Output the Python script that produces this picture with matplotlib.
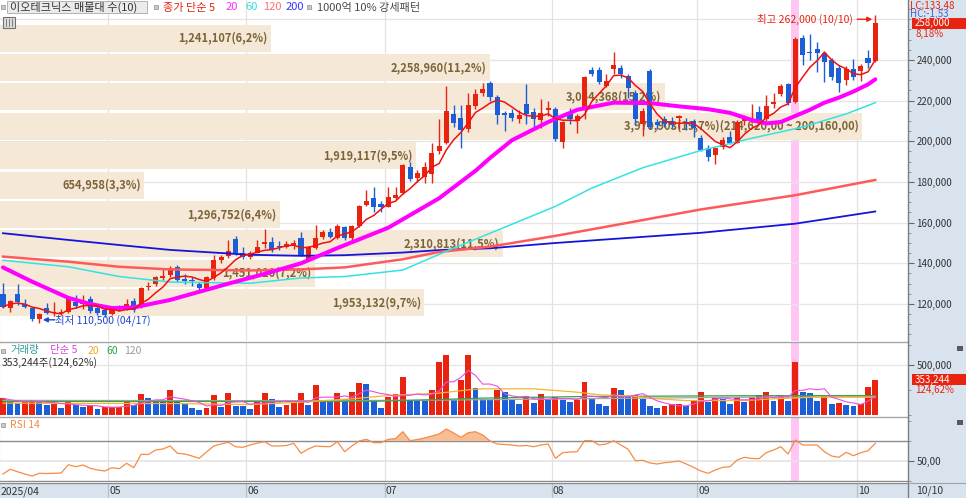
import numpy as np
import pandas as pd
import matplotlib
matplotlib.use('Agg')
import matplotlib.pyplot as plt
from matplotlib.patches import Rectangle
from matplotlib.lines import Line2D
from matplotlib.ticker import FixedLocator, FuncFormatter

plt.rcParams['font.family'] = ['Noto Sans CJK KR', 'DejaVu Sans']

# ------------------------------------------------------------------ data
stock_name = '이오테크닉스'
month_labels = ['2025/04', '05', '06', '07', '08', '09', '10']
month_first = [0, 15, 34, 53, 76, 96, 118]      # candle index of each month's first day
last_date = '10/10'
high_date = '10/10'
low_date = '04/17'
strong_day = 109                                 # 1000억 10% 강세패턴
lc_text = 'LC:133,48'
hc_text = 'HC:-1,53'

# daily candles, 1,000 won
opens = [124.9, 118.2, 124.9, 120.0, 118.0, 112.7, 118.0, 115.8, 115.8, 116.2,
         121.0, 120.0, 122.4, 118.0, 117.0, 115.0, 118.5, 117.5, 121.5, 118.7,
         128.5, 129.7, 133.0, 134.3, 138.2, 132.5, 132.0, 130.0, 127.8, 132.8,
         141.6, 143.6, 151.8, 145.0, 143.0, 145.3, 149.5, 150.7, 148.5, 148.2,
         149.0, 152.3, 142.1, 147.4, 153.1, 155.6, 152.3, 157.7, 152.3, 158.5,
         168.7, 172.0, 169.2, 167.9, 172.0, 174.8, 187.2, 181.8, 182.3, 183.9,
         195.2, 199.3, 213.5, 211.3, 205.9, 217.4, 223.9, 228.8, 222.0, 214.0,
         214.1, 210.8, 218.4, 214.6, 210.5, 215.4, 215.7, 199.8, 213.4, 210.2,
         216.2, 235.1, 235.1, 227.2, 235.4, 236.2, 232.1, 223.6, 208.4, 234.6,
         209.4, 211.0, 210.0, 211.3, 209.7, 210.0, 201.5, 196.9, 193.3, 197.1,
         202.0, 199.3, 210.2, 210.3, 214.6, 210.8, 218.4, 223.3, 228.0, 219.5,
         250.7, 244.0, 245.3, 243.3, 240.0, 235.9, 230.2, 235.4, 234.7, 240.8,
         239.5]
highs = [130.3, 122.0, 129.8, 122.4, 118.7, 115.5, 120.4, 121.0, 117.5, 123.6,
         124.5, 124.5, 123.7, 119.0, 118.0, 119.0, 119.5, 122.5, 122.8, 128.5,
         131.0, 134.0, 137.5, 138.5, 139.0, 134.6, 133.5, 131.0, 134.0, 144.0,
         144.3, 151.3, 153.4, 148.2, 146.0, 151.5, 156.8, 153.0, 151.0, 151.0,
         151.5, 155.6, 148.5, 158.8, 156.5, 157.3, 159.2, 158.5, 159.0, 168.5,
         176.1, 177.7, 170.5, 177.7, 177.7, 189.0, 190.0, 186.0, 190.0, 199.3,
         210.8, 227.2, 218.0, 218.0, 223.6, 225.8, 228.5, 229.5, 223.0, 214.8,
         216.0, 215.5, 228.2, 216.5, 220.7, 219.7, 217.0, 210.0, 216.4, 213.5,
         232.0, 236.5, 236.5, 233.0, 244.1, 237.3, 233.0, 225.0, 216.5, 235.5,
         211.0, 212.5, 212.0, 213.0, 211.5, 211.0, 203.0, 198.0, 197.0, 202.0,
         205.0, 210.5, 213.0, 218.4, 217.5, 222.8, 223.9, 228.3, 228.5, 251.5,
         252.5, 252.8, 249.0, 244.5, 241.0, 237.5, 237.0, 240.3, 238.0, 244.9,
         262.0]
lows = [118.0, 116.1, 119.5, 118.0, 111.5, 110.5, 115.0, 114.0, 114.5, 115.8,
        118.0, 117.5, 115.5, 114.5, 113.8, 114.5, 116.5, 117.0, 116.0, 118.0,
        127.0, 129.0, 132.0, 133.5, 130.8, 129.6, 129.0, 127.0, 127.0, 132.0,
        140.0, 142.5, 144.0, 142.0, 142.0, 145.0, 147.5, 145.5, 146.5, 147.5,
        147.0, 143.5, 141.5, 146.8, 151.8, 152.5, 151.8, 151.5, 150.5, 158.0,
        168.0, 165.4, 165.4, 167.5, 171.0, 174.0, 180.5, 180.0, 179.5, 179.4,
        194.0, 198.5, 207.0, 196.5, 204.5, 216.0, 222.5, 220.0, 208.5, 205.2,
        210.0, 209.0, 208.5, 206.5, 206.4, 212.5, 200.0, 196.6, 208.4, 204.0,
        211.0, 232.0, 228.0, 226.5, 233.0, 231.0, 221.5, 208.0, 202.8, 206.0,
        206.0, 207.0, 206.5, 206.0, 205.5, 202.0, 195.0, 190.3, 189.0, 196.0,
        198.5, 199.0, 208.0, 209.0, 208.5, 210.0, 216.5, 222.5, 218.0, 219.0,
        237.5, 240.0, 234.3, 229.3, 230.0, 224.4, 227.7, 230.0, 229.5, 236.0,
        239.0]
closes = [118.5, 121.7, 121.0, 118.6, 112.6, 115.0, 115.8, 116.0, 116.3, 123.0,
          118.8, 121.5, 116.6, 115.6, 114.5, 118.7, 117.5, 120.0, 117.2, 128.0,
          129.0, 133.4, 134.0, 137.9, 131.8, 131.5, 131.2, 127.8, 133.1, 141.6,
          143.0, 146.2, 145.0, 143.2, 145.0, 148.2, 150.7, 146.6, 148.0, 149.5,
          150.0, 144.1, 147.9, 152.3, 155.6, 153.1, 158.5, 152.3, 158.5, 168.2,
          170.8, 167.9, 167.6, 172.8, 173.6, 188.4, 181.3, 184.6, 187.5, 194.4,
          197.7, 215.0, 209.2, 205.6, 217.9, 223.3, 225.6, 221.6, 213.0, 213.0,
          211.3, 213.0, 213.4, 210.8, 213.8, 216.6, 201.0, 209.7, 210.8, 212.5,
          231.8, 233.1, 229.3, 229.8, 237.5, 233.1, 226.1, 210.8, 214.9, 207.2,
          207.8, 208.4, 208.2, 212.6, 208.4, 206.4, 195.6, 192.4, 196.6, 200.7,
          199.1, 209.7, 211.3, 211.0, 209.7, 217.4, 219.1, 227.2, 218.7, 250.2,
          242.5, 243.4, 243.6, 239.2, 231.5, 228.5, 235.4, 231.5, 237.0, 238.5,
          258.0]

volume = [171000, 139000, 125000, 130000, 155000, 139000, 102000, 116000, 76000, 139000,
          99000, 82000, 95000, 66000, 82000, 85000, 88000, 139000, 99000, 208000,
          171000, 155000, 142000, 254000, 142000, 116000, 76000, 59000, 76000, 198000,
          82000, 225000, 92000, 90000, 66000, 132000, 222000, 168000, 82000, 106000,
          132000, 225000, 106000, 297000, 148000, 132000, 225000, 168000, 231000, 323000,
          307000, 148000, 76000, 188000, 208000, 380000, 145000, 142000, 140000, 254000,
          528000, 594000, 155000, 356000, 600000, 277000, 165000, 160000, 248000, 231000,
          165000, 116000, 191000, 122000, 208000, 158000, 182000, 158000, 132000, 155000,
          336000, 175000, 116000, 96000, 277000, 251000, 191000, 198000, 165000, 92000,
          76000, 92000, 109000, 111000, 92000, 158000, 234000, 132000, 182000, 165000,
          116000, 182000, 132000, 182000, 198000, 231000, 142000, 198000, 142000, 533000,
          231000, 221000, 148000, 191000, 116000, 122000, 99000, 92000, 116000, 283458,
          353244]

rsi14 = [37, 41.7, 39.3, 37, 35, 37.7, 37.5, 37.7, 38, 46.3,
         44.3, 46, 42.7, 41, 40, 43.3, 42.3, 47.7, 43.3, 56.7,
         56.5, 61, 62, 65, 57.7, 57, 55, 52.7, 59, 65,
         67, 68.7, 64.3, 63.7, 66, 68, 69.3, 65, 65, 65.5,
         67.7, 57.7, 62, 65, 64.5, 64.3, 69.3, 59.3, 65, 70,
         71.7, 68.3, 68.3, 71.7, 72.3, 79.3, 70.3, 71.5, 73, 75,
         77, 82, 78, 73.7, 78.3, 79.3, 76, 70, 67, 66.5,
         66, 65, 65.5, 64.3, 66, 67, 52.7, 58.3, 59, 59.3,
         70.3, 70.3, 66, 67, 70.3, 66, 61.7, 50.3, 50.7, 48,
         47, 48.3, 49, 50, 47, 43.7, 40, 37.7, 41, 43.7,
         44.3, 51, 53.7, 52.5, 52.3, 58.3, 61, 64.3, 57, 71,
         66, 66, 66, 59.3, 55, 53.7, 58.7, 55.3, 58.3, 60.3,
         67.7]

# price moving averages (candle index, 1,000 won)
ma20_at = [0, 4, 9, 12, 15, 18, 23, 31, 36, 41, 46, 53, 60, 65, 67, 70, 75, 79, 84,
           89, 93, 97, 100, 103, 105, 107, 109, 111, 113, 115, 117, 119, 120]
ma20_val = [138.0, 131.0, 123.0, 120.0, 118.0, 118.3, 122.0, 130.0, 134.8, 140.0, 147.5,
            157.5, 172.0, 185.5, 191.8, 200.5, 209.5, 215.5, 219.0, 218.8, 217.2, 215.8,
            214.0, 210.5, 208.8, 209.5, 212.5, 215.5, 219.0, 221.5, 224.5, 228.0, 230.5]
ma60_at = [0, 9, 16, 23, 34, 41, 47, 55, 62, 67, 76, 81, 88, 96, 103, 110, 116, 120]
ma60_val = [141.5, 138.3, 133.5, 130.8, 130.2, 132.8, 133.5, 136.7, 147.5, 154.8, 168.0,
            177.0, 187.0, 195.5, 201.5, 207.0, 213.5, 219.0]
ma120_at = [0, 9, 16, 23, 34, 41, 47, 55, 60, 67, 76, 83, 96, 109, 120]
ma120_val = [143.3, 140.8, 138.3, 137.0, 136.5, 137.0, 138.0, 142.0, 145.6, 148.2, 153.5,
             158.0, 166.5, 173.5, 181.0]
ma200_at = [0, 9, 16, 23, 34, 41, 47, 55, 60, 67, 76, 96, 109, 120]
ma200_val = [154.8, 151.5, 149.0, 146.6, 144.2, 143.7, 144.0, 145.3, 146.5, 147.4, 150.0,
             155.0, 159.5, 165.5]

# volume moving averages (candle index, 1,000 shares)
vma20_at = [0, 12, 24, 34, 41, 48, 53, 60, 64, 66, 73, 79, 82, 86, 90, 94, 102, 106, 112, 120]
vma20_val = [122, 120, 118, 108, 132, 165, 198, 221, 254, 264, 264, 231, 205, 195, 165,
             148, 148, 165, 182, 182]
vma60_at = [0, 20, 40, 52, 60, 66, 80, 100, 120]
vma60_val = [139, 139, 139, 142, 158, 172, 188, 195, 197]
vma120_at = [0, 40, 60, 80, 100, 120]
vma120_val = [150, 146, 152, 166, 180, 186]

# volume profile (매물대), bottom band first
band_bottom = 113400
band_step = 14460
band_volume = [1953132, 1451010, 2310813, 1296752, 654958, 1919117, 3970903, 3054368, 2258960, 1241107]
band_share = [9.7, 7.2, 11.5, 6.4, 3.3, 9.5, 19.7, 15.2, 11.2, 6.2]

# ------------------------------------------------------------------ setup
W, H = 966, 498
RED = '#e8230f'
BLUE = '#1b5ed6'
STRIP = '#d9e3ee'

o = np.array(opens) * 1000
h = np.array(highs) * 1000
l = np.array(lows) * 1000
c = np.array(closes) * 1000
v = np.array(volume, dtype=float)
rsi = np.array(rsi14, dtype=float)
n = len(c)
x = np.arange(n)
XLIM = (-0.41, 124.5)
PLIM = (101800, 269500)


def fx(px):
    return px / W


def fy(py):
    return 1 - py / H


def kr(val, dec):
    return f'{val:,.{dec}f}'.replace('.', ',') if dec else f'{val:,.0f}'


fig = plt.figure(figsize=(W / 100, H / 100), dpi=100)
fig.patch.set_facecolor('white')
fig.add_artist(Rectangle((fx(908), 0), 1 - fx(908), 1, transform=fig.transFigure,
                         fc=STRIP, ec='none', zorder=-1))


def axes_at(x0, y0, x1, y1, fc='white'):
    a = fig.add_axes([fx(x0), fy(y1), (x1 - x0) / W, (y1 - y0) / H])
    a.set_facecolor(fc)
    for s in a.spines.values():
        s.set_visible(False)
    a.set_xlim(*XLIM)
    a.set_xticks([])
    return a


def right_ticks(a):
    a.yaxis.tick_right()
    a.tick_params(axis='y', which='major', direction='out', length=4, width=0.8,
                  color='#666666', pad=2, labelsize=7, labelcolor='#333333')
    a.tick_params(axis='y', which='minor', direction='out', length=2, width=0.6, color='#888888')


def ftxt(px, py, s, color='#333333', size=7.5, **kw):
    kw.setdefault('ha', 'left')
    kw.setdefault('va', 'center')
    return fig.text(fx(px), fy(py), s, color=color, fontsize=size, **kw)


def box(px, py, w, hgt, fc, ec='none', z=2, lw=0.8):
    fig.add_artist(Rectangle((fx(px), fy(py + hgt)), w / W, hgt / H, transform=fig.transFigure,
                             fc=fc, ec=ec, lw=lw, zorder=z))


month_lines = np.array(month_first) - 0.5

# ------------------------------------------------------------------ price panel
ax = axes_at(0, 0, 908, 341)
ax.set_ylim(*PLIM)
ax.axvspan(strong_day - 0.55, strong_day + 0.55, color='#ffc6f4', lw=0, zorder=0.5)
for m in month_lines:
    ax.axvline(m, color='#e2e2e2', lw=0.9, zorder=0.8)
for g in range(120000, 260001, 20000):
    ax.axhline(g, color='#e4e4e4', lw=0.9, zorder=0.8)

span = XLIM[1] - XLIM[0]
top_share = max(band_share)
for k, (bv, bs) in enumerate(zip(band_volume, band_share)):
    lo = band_bottom + k * band_step
    wd = bs / top_share * 0.949 * span
    ax.barh(lo + band_step / 2, wd, height=band_step * 0.92, left=XLIM[0],
            color='#f5e8d7', lw=0, zorder=1)
    label = f'{bv:,}({bs:.1f}%)'.replace('.', ',')
    if bs == top_share:
        label += f'({kr(lo + band_step, 2)} ~ {kr(lo, 2)})'
    ax.text(XLIM[0] + wd - 0.45, lo + band_step / 2, label, ha='right', va='center',
            color='#7d6437', fontsize=8, fontweight='bold', zorder=1.5)

up = c >= o
col = np.where(up, RED, BLUE)
ax.vlines(x, l, h, colors=col, lw=1, zorder=2.5)
ax.bar(x, np.maximum(np.abs(c - o), 350), bottom=np.minimum(o, c), width=0.7,
       color=col, lw=0, zorder=2.6)

ma5 = pd.Series(c).rolling(5, min_periods=1).mean()
ax.plot(ma200_at, np.array(ma200_val) * 1000, color='#1414dc', lw=1.3, zorder=3)
ax.plot(ma120_at, np.array(ma120_val) * 1000, color='#ff5a5a', lw=1.8, zorder=3)
ax.plot(ma60_at, np.array(ma60_val) * 1000, color='#33e3e3', lw=1.1, zorder=3)
ax.plot(ma20_at, np.array(ma20_val) * 1000, color='#ff00ff', lw=2.9, zorder=3.1,
        solid_capstyle='round')
ax.plot(x, ma5, color='#f01010', lw=1.1, zorder=3.2)

right_ticks(ax)
ax.yaxis.set_major_locator(FixedLocator(list(range(120000, 240001, 20000))))
ax.yaxis.set_minor_locator(FixedLocator(list(range(105000, 266000, 5000))))
ax.yaxis.set_major_formatter(FuncFormatter(lambda val, pos: f'{val:,.0f}'))

px_idx = 908 / span
won_px = (PLIM[1] - PLIM[0]) / 341
i_hi = int(np.argmax(h))
i_lo = int(np.argmin(l))
ax.annotate(f'최고 {h[i_hi]:,.0f} ({high_date})', xy=(i_hi - 22 / px_idx, h[i_hi] - 4 * won_px),
            ha='right', va='center', color=RED, fontsize=7.5, zorder=6, annotation_clip=False)
ax.annotate('', xy=(i_hi - 3 / px_idx, h[i_hi] - 4 * won_px),
            xytext=(i_hi - 18 / px_idx, h[i_hi] - 4 * won_px),
            arrowprops=dict(arrowstyle='-|>', color=RED, lw=1, shrinkA=0, shrinkB=0,
                            mutation_scale=7), zorder=6)
ax.annotate(f'최저 {l[i_lo]:,.0f} ({low_date})', xy=(i_lo + 15.5 / px_idx, l[i_lo] + 3.5 * won_px),
            ha='left', va='center', color='#2046d0', fontsize=7.5, zorder=6)
ax.annotate('', xy=(i_lo + 3.5 / px_idx, l[i_lo] + 3.5 * won_px),
            xytext=(i_lo + 15.5 / px_idx, l[i_lo] + 3.5 * won_px),
            arrowprops=dict(arrowstyle='-|>', color='#2046d0', lw=1, shrinkA=0, shrinkB=0,
                            mutation_scale=7), zorder=6)

# ------------------------------------------------------------------ volume panel
av = axes_at(0, 342, 908, 416)
av.set_ylim(-5000, 727600)
av.axvspan(strong_day - 0.55, strong_day + 0.55, color='#ffc6f4', lw=0, zorder=0.5)
for m in month_lines:
    av.axvline(m, color='#e2e2e2', lw=0.9, zorder=0.8)
av.axhline(500000, color='#e6e6e6', lw=0.9, zorder=0.8)
vup = np.r_[True, v[1:] > v[:-1]]
av.bar(x, v, width=0.82, color=np.where(vup, RED, BLUE), lw=0, zorder=2)
vma5 = pd.Series(v).rolling(5, min_periods=1).mean()
av.plot(vma120_at, np.array(vma120_val) * 1000, color='#a8a8a8', lw=0.9, zorder=3)
av.plot(vma60_at, np.array(vma60_val) * 1000, color='#3aa04a', lw=0.9, zorder=3)
av.plot(vma20_at, np.array(vma20_val) * 1000, color='#f5b530', lw=0.9, zorder=3)
av.plot(x, vma5, color='#e850e0', lw=0.8, zorder=3.1)
right_ticks(av)
av.yaxis.set_major_locator(FixedLocator([500000]))
av.yaxis.set_minor_locator(FixedLocator([0, 250000, 700000]))
av.yaxis.set_major_formatter(FuncFormatter(lambda val, pos: f'{val:,.0f}'))

# ------------------------------------------------------------------ RSI panel
ar = axes_at(0, 417, 908, 482)
ar.set_ylim(29, 94)
ar.axvspan(strong_day - 0.55, strong_day + 0.55, color='#ffc6f4', lw=0, zorder=0.5)
for m in month_lines:
    ar.axvline(m, color='#e2e2e2', lw=0.9, zorder=0.8)
ar.axhline(50, color='#e4e4e4', lw=1.2, zorder=0.8)
ar.axhline(70, color='#8c8c8c', lw=1.0, zorder=0.9)
ar.axhline(30, color='#8c8c8c', lw=1.0, zorder=0.9)
ar.fill_between(x, rsi, 70, where=rsi > 70, interpolate=True, color='#f7bd95', lw=0, zorder=1)
ar.plot(x, rsi, color='#f68c45', lw=0.9, zorder=2)
right_ticks(ar)
ar.yaxis.set_major_locator(FixedLocator([50]))
ar.yaxis.set_minor_locator(FixedLocator([30, 70, 90]))
ar.yaxis.set_major_formatter(FuncFormatter(lambda val, pos: kr(val, 2)))

# ------------------------------------------------------------------ date strip
axd = axes_at(0, 483, 908, 498, fc=STRIP)
axd.set_ylim(0, 1)
axd.set_yticks([])
for m, lab in zip(month_lines, month_labels):
    axd.axvline(m, color='#b8c0c8', lw=0.9)
    axd.text(m + 0.15, 0.45, lab, ha='left', va='center', fontsize=7.5, color='#333333')

# frame lines
for py, colr in [(341.5, '#a6a6a6'), (416.5, '#a6a6a6'), (482.5, '#8c8c8c')]:
    fig.add_artist(Line2D([0, fx(908)], [fy(py), fy(py)], color=colr, lw=1, zorder=5))
fig.add_artist(Line2D([fx(908), fx(908)], [0, 1], color='#7c7c7c', lw=1, zorder=5))
fig.add_artist(Line2D([fx(908), 1], [fy(482.5), fy(482.5)], color='#9aa4b0', lw=0.8, zorder=5))
ftxt(916, 490.5, last_date, size=7.5)

# ------------------------------------------------------------------ legends
box(1, 5, 4, 4, '#c8c8c8', '#909090', lw=0.5)
box(7, 1, 140, 12.5, '#ebebeb', '#b4b4b4', lw=0.7)
ftxt(10, 7.5, f'{stock_name} 매물대 수({len(band_share)})', size=8)
box(154, 5, 4, 4, '#c8c8c8', '#909090', lw=0.5)
ftxt(163, 7.5, '종가 단순 5', RED, size=8)
ftxt(226, 7.5, '20', '#ff28ff', size=8)
ftxt(245, 7.5, '60', '#38e0e0', size=8)
ftxt(263, 7.5, '120', '#ff7070', size=8)
ftxt(286, 7.5, '200', '#3434ff', size=8)
box(307, 5, 4, 4, '#c8c8c8', '#909090', lw=0.5)
ftxt(317, 7.5, '1000억 10% 강세패턴', '#4a4a4a', size=8)
box(3, 17, 12, 11, '#dcdcdc', '#707070', lw=0.8)
for gx in (6, 9, 12):
    fig.add_artist(Line2D([fx(gx), fx(gx)], [fy(19), fy(26)], color='#707070', lw=0.6, zorder=3))

box(1, 348.5, 4, 4, '#c8c8c8', '#909090', lw=0.5)
ftxt(10, 350.5, '거래량', '#2e9d9d', size=7.5)
ftxt(50, 350.5, '단순 5', '#e040e0', size=7.5)
ftxt(88, 350.5, '20', '#f0a820', size=7.5)
ftxt(106, 350.5, '60', '#30a050', size=7.5)
ftxt(124, 350.5, '120', '#9a9a9a', size=7.5)
ftxt(2, 362.5, f'{v[-1]:,.0f}주({kr(v[-1] / v[-2] * 100, 2)}%)', size=7.5)

box(1, 422.5, 4, 4, '#c8c8c8', '#909090', lw=0.5)
ftxt(10, 424.5, 'RSI 14', '#f08a46', size=7.5)

# ------------------------------------------------------------------ right side values
ftxt(910, 5.5, lc_text, RED, size=7, zorder=3)
ftxt(910, 14, hc_text, '#3f62d8', size=7, zorder=3)


def value_box(a, val, text, sub):
    py = H - a.transData.transform((0, val))[1]
    box(912, py - 5.5, 54, 11, RED, z=6)
    ftxt(915, py, text, 'white', size=7, zorder=7)
    ftxt(915, py + 10.5, sub, RED, size=7, zorder=7)


value_box(ax, c[-1], f'{c[-1]:,.0f}', f'{kr((c[-1] / c[-2] - 1) * 100, 2)}%')
value_box(av, v[-1], f'{v[-1]:,.0f}', f'{kr(v[-1] / v[-2] * 100, 2)}%')
box(957, 346, 6, 5, '#5a5a5a', z=6)
box(957, 420, 6, 5, '#5a5a5a', z=6)

fig.savefig('out.png', dpi=100)
